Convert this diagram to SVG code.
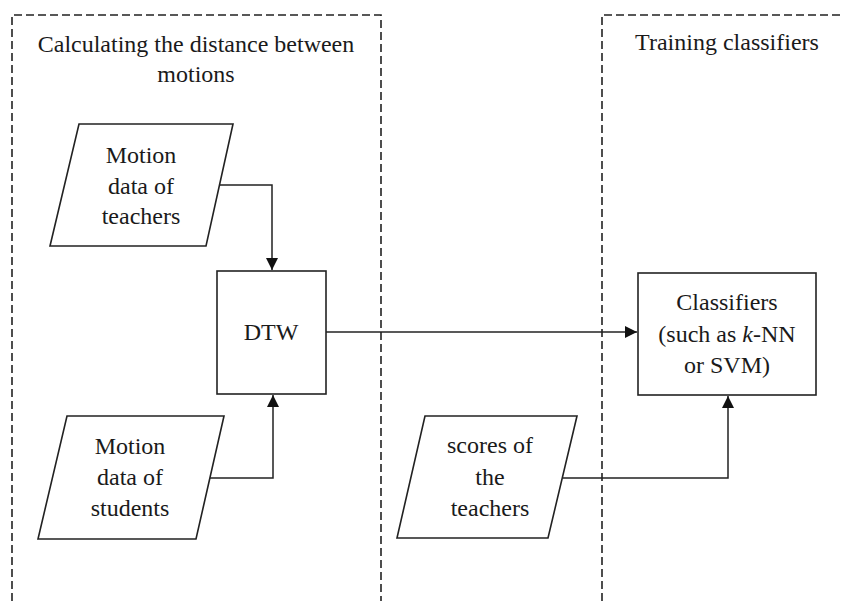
<svg xmlns="http://www.w3.org/2000/svg" width="842" height="601" viewBox="0 0 842 601">
<defs>
<style>
.t{font-family:'Liberation Serif','DejaVu Serif','Times New Roman',Times,serif;font-size:24px;fill:#1a1a1a;text-anchor:middle}
.dash{fill:none;stroke:#222;stroke-width:1.6;stroke-dasharray:8 4}
.shape{fill:#fff;stroke:#222;stroke-width:1.6}
.edge{fill:none;stroke:#222;stroke-width:1.5}
</style>
<marker id="ah" viewBox="0 0 10 10" refX="10" refY="5" markerWidth="12" markerHeight="12" markerUnits="userSpaceOnUse" orient="auto">
<path d="M0,0 L10,5 L0,10 z" fill="#111"/>
</marker>
</defs>
<rect width="842" height="601" fill="#fff"/>
<g id="region-distance">
<path class="dash" d="M12,601 V15 H381 V601"/>
<text class="t" x="196" y="52" font-family="Liberation Serif, DejaVu Serif, serif">Calculating the distance between</text>
<text class="t" x="196" y="82" font-family="Liberation Serif, DejaVu Serif, serif">motions</text>
</g>
<g id="region-training">
<path class="dash" d="M602,601 V15 H842"/>
<text class="t" x="727" y="50" font-family="Liberation Serif, DejaVu Serif, serif">Training classifiers</text>
</g>
<g id="connectors">
<path class="edge" d="M220,185 H272 V270" marker-end="url(#ah)"/>
<path class="edge" d="M210,478 H273 V395" marker-end="url(#ah)"/>
<path class="edge" d="M326,332 H637" marker-end="url(#ah)"/>
<path class="edge" d="M563,478 H728 V396" marker-end="url(#ah)"/>
</g>
<g id="teachers-motion">
<polygon class="shape" points="79,124 233,124 206,246 50,246"/>
<text class="t" x="141" y="163" font-family="Liberation Serif, DejaVu Serif, serif">Motion</text>
<text class="t" x="141" y="194" font-family="Liberation Serif, DejaVu Serif, serif">data of</text>
<text class="t" x="141" y="224" font-family="Liberation Serif, DejaVu Serif, serif">teachers</text>
</g>
<g id="students-motion">
<polygon class="shape" points="67,416 224,416 196,539 38,539"/>
<text class="t" x="130" y="454" font-family="Liberation Serif, DejaVu Serif, serif">Motion</text>
<text class="t" x="130" y="485" font-family="Liberation Serif, DejaVu Serif, serif">data of</text>
<text class="t" x="130" y="516" font-family="Liberation Serif, DejaVu Serif, serif">students</text>
</g>
<g id="dtw">
<rect class="shape" x="217" y="271" width="109" height="123"/>
<text class="t" x="271" y="340" font-family="Liberation Serif, DejaVu Serif, serif">DTW</text>
</g>
<g id="scores">
<polygon class="shape" points="425,416 577,416 548,538 397,538"/>
<text class="t" x="490" y="453" font-family="Liberation Serif, DejaVu Serif, serif">scores of</text>
<text class="t" x="490" y="485" font-family="Liberation Serif, DejaVu Serif, serif">the</text>
<text class="t" x="490" y="516" font-family="Liberation Serif, DejaVu Serif, serif">teachers</text>
</g>
<g id="classifiers">
<rect class="shape" x="638" y="273" width="178" height="122"/>
<text class="t" x="727" y="310" font-family="Liberation Serif, DejaVu Serif, serif">Classifiers</text>
<text class="t" x="727" y="342" font-family="Liberation Serif, DejaVu Serif, serif">(such as <tspan font-style="italic">k</tspan>-NN</text>
<text class="t" x="727" y="373" font-family="Liberation Serif, DejaVu Serif, serif">or SVM)</text>
</g>
</svg>
